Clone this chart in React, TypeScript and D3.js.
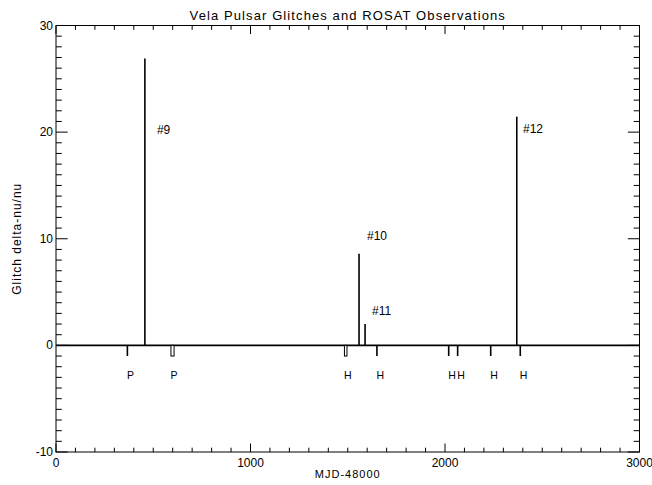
import React from "react";
import * as d3 from "d3";

const glitchNames = ["#9", "#10", "#11", "#12"];
const glitchMjd = [457, 1558, 1589, 2369];
const glitchSize = [26.9, 8.6, 2.0, 21.45];
const labelMjd = [519, 1599, 1625, 2401];
const labelVal = [19.8, 9.9, 2.85, 19.9];

const obsInstrument = ["P", "P", "H", "H", "H", "H", "H", "H"];
const obsStart = [367, 591, 1483, 1650, 2019, 2065, 2235, 2387];
const obsEnd = [367, 607, 1496, 1650, 2019, 2065, 2235, 2387];

const xTicks = [0, 1000, 2000, 3000];
const yTicks = [-10, 0, 10, 20, 30];

const W = 652;
const H = 485;
const L = 56, R = 639.5, T = 25.5, B = 452;
const FONT = "'Liberation Sans', Arial, sans-serif";

export default function App() {
  const x = d3.scaleLinear().domain([0, 3000]).range([L, R]);
  const y = d3.scaleLinear().domain([-10, 30]).range([B, T]);
  const xMinor = d3.range(0, 3001, 100);
  const yMinor = d3.range(-10, 31, 1);
  const xMaj = 8.5, xMin = 4.3, yMaj = 11.7, yMin = 5.8;
  const obsDepth = -1.0;

  return (
    <svg width={W} height={H} style={{ position: "absolute", left: 0, top: 0, background: "#fff" }}>
      <rect x={0} y={0} width={W} height={H} fill="#fff" />
      <text x={(L + R) / 2} y={20} fontSize={13} letterSpacing={1.1} fontFamily={FONT} textAnchor="middle" fill="#000">
        Vela Pulsar Glitches and ROSAT Observations
      </text>
      {/* frame */}
      <rect x={L} y={T} width={R - L} height={B - T} fill="none" stroke="#000" strokeWidth={1} />
      {/* x ticks bottom & top */}
      {xMinor.map((v) => {
        const major = xTicks.includes(v);
        const len = major ? xMaj : xMin;
        return (
          <g key={"xt" + v}>
            <line x1={x(v)} x2={x(v)} y1={B} y2={B - len} stroke="#000" strokeWidth={1} />
            <line x1={x(v)} x2={x(v)} y1={T} y2={T + len} stroke="#000" strokeWidth={1} />
          </g>
        );
      })}
      {yMinor.map((v) => {
        const major = yTicks.includes(v);
        const len = major ? yMaj : yMin;
        return (
          <g key={"yt" + v}>
            <line x1={L} x2={L + len} y1={y(v)} y2={y(v)} stroke="#000" strokeWidth={1} />
            <line x1={R} x2={R - len} y1={y(v)} y2={y(v)} stroke="#000" strokeWidth={1} />
          </g>
        );
      })}
      {xTicks.map((v) => (
        <text key={"xl" + v} x={x(v)} y={B + 15} fontSize={12} fontFamily={FONT} textAnchor="middle" fill="#000">
          {v}
        </text>
      ))}
      {yTicks.map((v) => (
        <text key={"yl" + v} x={L - 3} y={y(v) + 4} fontSize={12} fontFamily={FONT} textAnchor="end" fill="#000">
          {v}
        </text>
      ))}
      <text x={(L + R) / 2} y={478} fontSize={11} letterSpacing={1} fontFamily={FONT} textAnchor="middle" fill="#000">
        MJD-48000
      </text>
      <text
        transform={`translate(21,${(T + B) / 2}) rotate(-90)`}
        fontSize={12}
        letterSpacing={1}
        fontFamily={FONT}
        textAnchor="middle"
        fill="#000"
      >
        Glitch delta-nu/nu
      </text>
      {/* zero baseline */}
      <line x1={L} x2={R} y1={y(0)} y2={y(0)} stroke="#000" strokeWidth={1.6} />
      {/* glitches */}
      {glitchMjd.map((m, i) => (
        <g key={"g" + i}>
          <line x1={x(m)} x2={x(m)} y1={y(0)} y2={y(glitchSize[i])} stroke="#000" strokeWidth={1.6} />
          <text x={x(labelMjd[i])} y={y(labelVal[i])} fontSize={12} fontFamily={FONT} fill="#000">
            {glitchNames[i]}
          </text>
        </g>
      ))}
      {/* ROSAT observations */}
      {obsStart.map((s, i) => {
        const e = obsEnd[i];
        const mark =
          e > s ? (
            <rect
              x={x(s)}
              y={y(0)}
              width={x(e) - x(s)}
              height={y(obsDepth) - y(0)}
              fill="#fff"
              stroke="#000"
              strokeWidth={1}
            />
          ) : (
            <line x1={x(s)} x2={x(s)} y1={y(0)} y2={y(obsDepth)} stroke="#000" strokeWidth={1.6} />
          );
        return (
          <g key={"o" + i}>
            {mark}
            <text x={x(s) - 0.5} y={y(0) + 34} fontSize={10.5} fontFamily={FONT} fill="#000">
              {obsInstrument[i]}
            </text>
          </g>
        );
      })}
    </svg>
  );
}
